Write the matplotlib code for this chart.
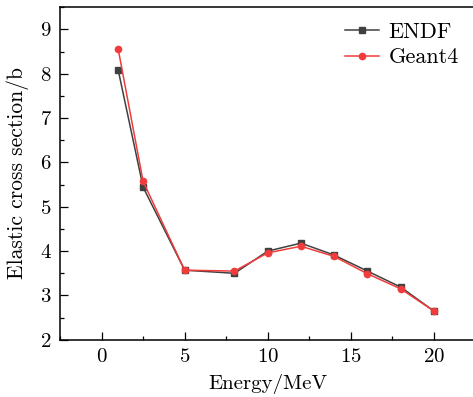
import matplotlib
matplotlib.use("Agg")
import matplotlib.pyplot as plt
from matplotlib.ticker import MultipleLocator

plt.rcParams['font.family'] = ['cmr10', 'DejaVu Serif']
plt.rcParams['axes.formatter.use_mathtext'] = True
plt.rcParams['mathtext.fontset'] = 'cm'

# energies (MeV)
energy = [1, 2.5, 5, 8, 10, 12, 14, 16, 18, 20]
# elastic cross section (b)
endf = [8.08, 5.44, 3.57, 3.50, 4.00, 4.18, 3.91, 3.55, 3.19, 2.65]
geant4 = [8.55, 5.57, 3.57, 3.55, 3.96, 4.11, 3.88, 3.49, 3.15, 2.65]

fig = plt.figure(figsize=(4.73, 3.97), dpi=100)
ax = fig.add_axes([0.127, 0.144, 0.878, 0.838])

ax.plot(energy, endf, color='#404040', lw=1.1, marker='s', ms=4, label='ENDF')
ax.plot(energy, geant4, color='#f03c3c', lw=1.1, marker='o', ms=4.5, label='Geant4')

ax.set_xlim(-2.5, 22.5)
ax.set_ylim(2, 9.5)
ax.xaxis.set_major_locator(MultipleLocator(5))
ax.xaxis.set_minor_locator(MultipleLocator(2.5))
ax.yaxis.set_major_locator(MultipleLocator(1))
ax.yaxis.set_minor_locator(MultipleLocator(0.5))
ax.tick_params(which='both', direction='in', top=False, right=False, labelsize=15)
ax.tick_params(which='major', length=6, width=0.9, pad=6)
ax.tick_params(which='minor', length=3, width=0.9)
for s in ax.spines.values():
    s.set_linewidth(1.1)

ax.set_xlabel('Energy/MeV', fontsize=15, labelpad=6)
ax.set_ylabel('Elastic cross section/b', fontsize=15.5, labelpad=8)
ax.legend(loc='upper left', frameon=False, fontsize=16, handlelength=1.55,
          labelspacing=0.28, handletextpad=0.4, borderpad=0, borderaxespad=0,
          bbox_to_anchor=(345 / 473, 1 - 22 / 397), bbox_transform=fig.transFigure)

fig.savefig('out.png', dpi=100)
